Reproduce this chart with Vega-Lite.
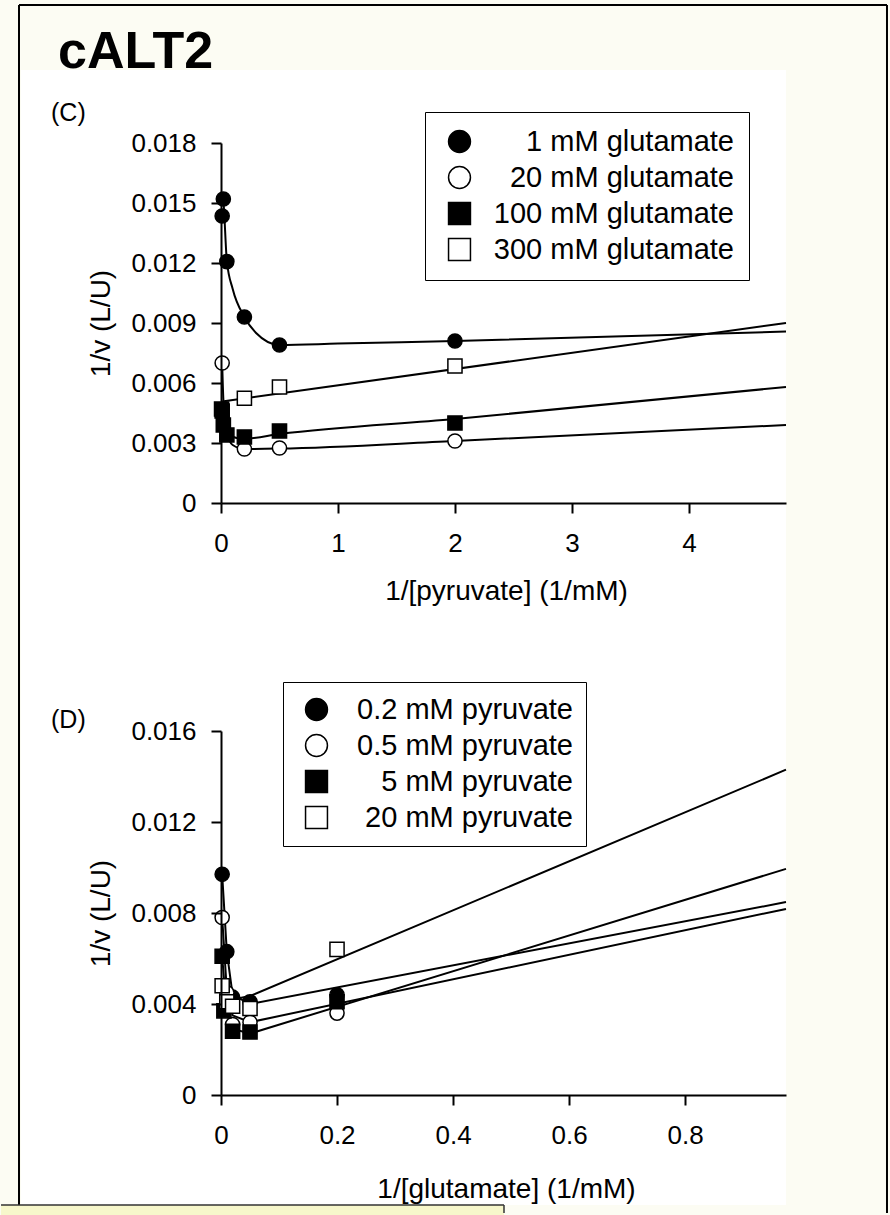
{
  "$schema": "https://vega.github.io/schema/vega-lite/v6.json",
  "padding": 0,
  "background": "#fcfcf3",
  "bounds": "flush",
  "spacing": 228,
  "resolve": {"scale": {"shape": "independent", "fill": "independent"}, "legend": {"shape": "independent", "fill": "independent"}},
  "config": {
    "font": "Liberation Sans",
    "view": {"stroke": null},
    "axis": {
      "grid": false, "domainColor": "black", "domainWidth": 2, "tickColor": "black", "tickWidth": 2, "tickSize": 10,
      "labelColor": "black", "titleColor": "black", "labelFont": "Liberation Sans", "titleFont": "Liberation Sans",
      "labelFontSize": 26, "titleFontSize": 28, "titleFontWeight": "normal", "labelFlush": false, "labelOverlap": false,
      "labelPadding": 17, "titleBaseline": "middle"
    },
    "axisY": {"labelPadding": 15}
  },
  "datasets": {
    "one": [{}],
    "cPoints": [
      {"series": "1 mM glutamate", "x": 0.01, "y": 0.01435},
      {"series": "1 mM glutamate", "x": 0.02, "y": 0.0152},
      {"series": "1 mM glutamate", "x": 0.05, "y": 0.01207},
      {"series": "1 mM glutamate", "x": 0.2, "y": 0.0093},
      {"series": "1 mM glutamate", "x": 0.5, "y": 0.0079},
      {"series": "1 mM glutamate", "x": 2, "y": 0.0081},
      {"series": "20 mM glutamate", "x": 0.01, "y": 0.007},
      {"series": "20 mM glutamate", "x": 0.2, "y": 0.0027},
      {"series": "20 mM glutamate", "x": 0.5, "y": 0.00275},
      {"series": "20 mM glutamate", "x": 2, "y": 0.0031},
      {"series": "100 mM glutamate", "x": 0.005, "y": 0.0047},
      {"series": "100 mM glutamate", "x": 0.01, "y": 0.0046},
      {"series": "100 mM glutamate", "x": 0.02, "y": 0.0039},
      {"series": "100 mM glutamate", "x": 0.05, "y": 0.0034},
      {"series": "100 mM glutamate", "x": 0.2, "y": 0.0033},
      {"series": "100 mM glutamate", "x": 0.5, "y": 0.0036},
      {"series": "100 mM glutamate", "x": 2, "y": 0.004},
      {"series": "300 mM glutamate", "x": 0.2, "y": 0.00524},
      {"series": "300 mM glutamate", "x": 0.5, "y": 0.0058},
      {"series": "300 mM glutamate", "x": 2, "y": 0.00685}
    ],
    "cFits": [
      {"series": "1 mM glutamate", "x": 0.01, "y": 0.0154},
      {"series": "1 mM glutamate", "x": 0.02, "y": 0.0151},
      {"series": "1 mM glutamate", "x": 0.05, "y": 0.0121},
      {"series": "1 mM glutamate", "x": 0.1, "y": 0.0107},
      {"series": "1 mM glutamate", "x": 0.2, "y": 0.0093},
      {"series": "1 mM glutamate", "x": 0.3, "y": 0.0085},
      {"series": "1 mM glutamate", "x": 0.5, "y": 0.0079},
      {"series": "1 mM glutamate", "x": 1, "y": 0.00797},
      {"series": "1 mM glutamate", "x": 2, "y": 0.0081},
      {"series": "1 mM glutamate", "x": 4.83, "y": 0.00857},
      {"series": "20 mM glutamate", "x": 0.01, "y": 0.007},
      {"series": "20 mM glutamate", "x": 0.02, "y": 0.0052},
      {"series": "20 mM glutamate", "x": 0.05, "y": 0.0035},
      {"series": "20 mM glutamate", "x": 0.1, "y": 0.0029},
      {"series": "20 mM glutamate", "x": 0.2, "y": 0.0027},
      {"series": "20 mM glutamate", "x": 0.5, "y": 0.00272},
      {"series": "20 mM glutamate", "x": 2, "y": 0.0031},
      {"series": "20 mM glutamate", "x": 4.83, "y": 0.0039},
      {"series": "100 mM glutamate", "x": 0.005, "y": 0.0048},
      {"series": "100 mM glutamate", "x": 0.02, "y": 0.0039},
      {"series": "100 mM glutamate", "x": 0.05, "y": 0.0034},
      {"series": "100 mM glutamate", "x": 0.2, "y": 0.00322},
      {"series": "100 mM glutamate", "x": 0.5, "y": 0.00345},
      {"series": "100 mM glutamate", "x": 2, "y": 0.0042},
      {"series": "100 mM glutamate", "x": 4.83, "y": 0.0058},
      {"series": "300 mM glutamate", "x": 0.01, "y": 0.00508},
      {"series": "300 mM glutamate", "x": 4.83, "y": 0.009}
    ],
    "dPoints": [
      {"series": "0.2 mM pyruvate", "x": 0.002, "y": 0.0097},
      {"series": "0.2 mM pyruvate", "x": 0.01, "y": 0.0063},
      {"series": "0.2 mM pyruvate", "x": 0.02, "y": 0.0043},
      {"series": "0.2 mM pyruvate", "x": 0.05, "y": 0.0041},
      {"series": "0.2 mM pyruvate", "x": 0.2, "y": 0.0044},
      {"series": "0.5 mM pyruvate", "x": 0.002, "y": 0.0078},
      {"series": "0.5 mM pyruvate", "x": 0.01, "y": 0.0045},
      {"series": "0.5 mM pyruvate", "x": 0.02, "y": 0.0031},
      {"series": "0.5 mM pyruvate", "x": 0.05, "y": 0.0032},
      {"series": "0.5 mM pyruvate", "x": 0.2, "y": 0.0036},
      {"series": "5 mM pyruvate", "x": 0.002, "y": 0.0061},
      {"series": "5 mM pyruvate", "x": 0.005, "y": 0.0037},
      {"series": "5 mM pyruvate", "x": 0.02, "y": 0.0028},
      {"series": "5 mM pyruvate", "x": 0.05, "y": 0.00277},
      {"series": "5 mM pyruvate", "x": 0.2, "y": 0.0041},
      {"series": "20 mM pyruvate", "x": 0.002, "y": 0.0048},
      {"series": "20 mM pyruvate", "x": 0.01, "y": 0.0041},
      {"series": "20 mM pyruvate", "x": 0.02, "y": 0.0039},
      {"series": "20 mM pyruvate", "x": 0.05, "y": 0.0038},
      {"series": "20 mM pyruvate", "x": 0.2, "y": 0.0064}
    ],
    "dFits": [
      {"series": "20 mM pyruvate", "x": 0.002, "y": 0.0048},
      {"series": "20 mM pyruvate", "x": 0.01, "y": 0.0043},
      {"series": "20 mM pyruvate", "x": 0.02, "y": 0.0042},
      {"series": "20 mM pyruvate", "x": 0.05, "y": 0.00435},
      {"series": "20 mM pyruvate", "x": 0.974, "y": 0.0143},
      {"series": "0.2 mM pyruvate", "x": 0.002, "y": 0.0097},
      {"series": "0.2 mM pyruvate", "x": 0.01, "y": 0.0063},
      {"series": "0.2 mM pyruvate", "x": 0.02, "y": 0.0044},
      {"series": "0.2 mM pyruvate", "x": 0.05, "y": 0.004},
      {"series": "0.2 mM pyruvate", "x": 0.974, "y": 0.00848},
      {"series": "0.5 mM pyruvate", "x": 0.002, "y": 0.0078},
      {"series": "0.5 mM pyruvate", "x": 0.01, "y": 0.0046},
      {"series": "0.5 mM pyruvate", "x": 0.02, "y": 0.0035},
      {"series": "0.5 mM pyruvate", "x": 0.05, "y": 0.0032},
      {"series": "0.5 mM pyruvate", "x": 0.974, "y": 0.00818},
      {"series": "5 mM pyruvate", "x": 0.002, "y": 0.0061},
      {"series": "5 mM pyruvate", "x": 0.01, "y": 0.0036},
      {"series": "5 mM pyruvate", "x": 0.02, "y": 0.0029},
      {"series": "5 mM pyruvate", "x": 0.05, "y": 0.0027},
      {"series": "5 mM pyruvate", "x": 0.974, "y": 0.00994}
    ]
  },
  "vconcat": [
    {
      "width": 565,
      "height": 360,
      "layer": [
        {
          "data": {"name": "one"},
          "mark": {"type": "rect", "fill": "#fcfcf3"},
          "encoding": {
            "x": {"datum": -1.8805, "type": "quantitative", "scale": {"domain": [0, 4.83], "nice": false, "zero": false}},
            "x2": {"datum": 5.7274},
            "y": {"datum": 0.025149, "type": "quantitative", "scale": {"domain": [0, 0.018], "nice": false, "zero": false}},
            "y2": {"datum": -0.035599}
          }
        },
        {
          "data": {"name": "one"},
          "mark": {"type": "rect", "fill": "white"},
          "encoding": {
            "x": {"datum": -1.70973, "type": "quantitative"},
            "x2": {"datum": 4.83},
            "y": {"datum": 0.02165, "type": "quantitative"},
            "y2": {"datum": -0.0351}
          }
        },
        {
          "data": {"name": "one"},
          "mark": {"type": "rule", "color": "black", "strokeWidth": 2},
          "encoding": {
            "x": {"datum": -1.72683, "type": "quantitative"},
            "x2": {"datum": 5.69338},
            "y": {"datum": 0.0249, "type": "quantitative"}
          }
        },
        {
          "data": {"name": "one"},
          "mark": {"type": "rule", "color": "black", "strokeWidth": 2},
          "encoding": {
            "x": {"datum": -1.72683, "type": "quantitative"},
            "y": {"datum": 0.0249, "type": "quantitative"},
            "y2": {"datum": -0.0351}
          }
        },
        {
          "data": {"name": "one"},
          "mark": {"type": "rule", "color": "black", "strokeWidth": 2},
          "encoding": {
            "x": {"datum": 5.69338, "type": "quantitative"},
            "y": {"datum": 0.0249, "type": "quantitative"},
            "y2": {"datum": -0.0355}
          }
        },
        {
          "data": {"name": "one"},
          "mark": {"type": "rect", "fill": "#f7f7cb"},
          "encoding": {
            "x": {"datum": -1.8805, "type": "quantitative"},
            "x2": {"datum": 2.41926},
            "y": {"datum": -0.0351, "type": "quantitative"},
            "y2": {"datum": -0.035599}
          }
        },
        {
          "data": {"name": "one"},
          "mark": {"type": "rule", "color": "#333333", "strokeWidth": 1.5},
          "encoding": {
            "x": {"datum": -1.8805, "type": "quantitative"},
            "x2": {"datum": 2.41926},
            "y": {"datum": -0.0351, "type": "quantitative"}
          }
        },
        {
          "data": {"name": "one"},
          "mark": {"type": "rule", "color": "#333333", "strokeWidth": 1.5},
          "encoding": {
            "x": {"datum": 2.41926, "type": "quantitative"},
            "y": {"datum": -0.0351, "type": "quantitative"},
            "y2": {"datum": -0.0355}
          }
        },
        {
          "data": {"name": "one"},
          "mark": {"type": "text", "text": "cALT2", "font": "Liberation Sans", "fontSize": 52, "fontWeight": "bold", "color": "black", "align": "left", "baseline": "alphabetic"},
          "encoding": {
            "x": {"datum": -1.39345, "type": "quantitative"},
            "y": {"datum": 0.02175, "type": "quantitative"}
          }
        },
        {
          "data": {"name": "one"},
          "mark": {"type": "text", "text": "(C)", "font": "Liberation Sans", "fontSize": 25, "color": "black", "align": "left", "baseline": "alphabetic"},
          "encoding": {
            "x": {"datum": -1.45327, "type": "quantitative"},
            "y": {"datum": 0.0191, "type": "quantitative"}
          }
        },
        {
          "data": {"name": "cFits"},
          "mark": {"type": "line", "color": "black", "strokeWidth": 2, "interpolate": "monotone"},
          "encoding": {
            "x": {"field": "x", "type": "quantitative", "scale": {"domain": [0, 4.83], "nice": false, "zero": false},
              "axis": {"title": "1/[pyruvate] (1/mM)", "values": [0, 1, 2, 3, 4], "format": "d", "titleX": 285, "titleY": 88, "zindex": 1}},
            "y": {"field": "y", "type": "quantitative", "scale": {"domain": [0, 0.018], "nice": false, "zero": false},
              "axis": {"title": "1/v (L/U)", "values": [0, 0.003, 0.006, 0.009, 0.012, 0.015, 0.018], "format": "~g", "titleX": -120, "titleY": 180, "zindex": 1}},
            "detail": {"field": "series"}
          }
        },
        {
          "data": {"name": "cPoints"},
          "mark": {"type": "point", "filled": true, "stroke": "black", "strokeWidth": 1.5, "size": 200, "opacity": 1},
          "encoding": {
            "x": {"field": "x", "type": "quantitative"},
            "y": {"field": "y", "type": "quantitative"},
            "shape": {
              "field": "series", "type": "nominal",
              "scale": {"domain": ["1 mM glutamate", "20 mM glutamate", "100 mM glutamate", "300 mM glutamate"], "range": ["circle", "circle", "square", "square"]},
              "legend": {
                "title": null, "orient": "none", "legendX": 204, "legendY": -31, "padding": 15,
                "strokeColor": "black", "fillColor": "white", "symbolSize": 480,
                "symbolOffset": 5, "labelFont": "Liberation Sans", "labelFontSize": 29, "labelColor": "black", "labelAlign": "right", "labelOffset": 260,
                "labelLimit": 500, "rowPadding": 6, "clipHeight": 29,
                "encode": {"symbols": {"update": {"stroke": {"value": "black"}, "strokeWidth": {"value": 1.5}, "opacity": {"value": 1}}}}
              }
            },
            "fill": {
              "field": "series", "type": "nominal",
              "scale": {"domain": ["1 mM glutamate", "20 mM glutamate", "100 mM glutamate", "300 mM glutamate"], "range": ["black", "white", "black", "white"]}
            }
          }
        }
      ]
    },
    {
      "width": 565,
      "height": 364,
      "layer": [
        {
          "data": {"name": "one"},
          "mark": {"type": "text", "text": "(D)", "font": "Liberation Sans", "fontSize": 25, "color": "black", "align": "left", "baseline": "alphabetic"},
          "encoding": {
            "x": {"datum": -0.29306, "type": "quantitative", "scale": {"domain": [0, 0.974], "nice": false, "zero": false}},
            "y": {"datum": 0.016132, "type": "quantitative", "scale": {"domain": [0, 0.016], "nice": false, "zero": false}}
          }
        },
        {
          "data": {"name": "dFits"},
          "mark": {"type": "line", "color": "black", "strokeWidth": 2},
          "encoding": {
            "x": {"field": "x", "type": "quantitative", "scale": {"domain": [0, 0.974], "nice": false, "zero": false},
              "axis": {"title": "1/[glutamate] (1/mM)", "values": [0, 0.2, 0.4, 0.6, 0.8], "format": "~g", "titleX": 285, "titleY": 94, "zindex": 1}},
            "y": {"field": "y", "type": "quantitative", "scale": {"domain": [0, 0.016], "nice": false, "zero": false},
              "axis": {"title": "1/v (L/U)", "values": [0, 0.004, 0.008, 0.012, 0.016], "format": "~g", "titleX": -120, "titleY": 182, "zindex": 1}},
            "detail": {"field": "series"}
          }
        },
        {
          "data": {"name": "dPoints"},
          "mark": {"type": "point", "filled": true, "stroke": "black", "strokeWidth": 1.5, "size": 200, "opacity": 1},
          "encoding": {
            "x": {"field": "x", "type": "quantitative"},
            "y": {"field": "y", "type": "quantitative"},
            "shape": {
              "field": "series", "type": "nominal",
              "scale": {"domain": ["0.2 mM pyruvate", "0.5 mM pyruvate", "5 mM pyruvate", "20 mM pyruvate"], "range": ["circle", "circle", "square", "square"]},
              "legend": {
                "title": null, "orient": "none", "legendX": 62, "legendY": -49, "padding": 13,
                "strokeColor": "black", "fillColor": "white", "symbolSize": 480,
                "symbolOffset": 6, "labelFont": "Liberation Sans", "labelFontSize": 29, "labelColor": "black", "labelAlign": "right", "labelOffset": 242,
                "labelLimit": 500, "rowPadding": 6, "clipHeight": 29,
                "encode": {"symbols": {"update": {"stroke": {"value": "black"}, "strokeWidth": {"value": 1.5}, "opacity": {"value": 1}}}}
              }
            },
            "fill": {
              "field": "series", "type": "nominal",
              "scale": {"domain": ["0.2 mM pyruvate", "0.5 mM pyruvate", "5 mM pyruvate", "20 mM pyruvate"], "range": ["black", "white", "black", "white"]}
            }
          }
        }
      ]
    }
  ]
}
